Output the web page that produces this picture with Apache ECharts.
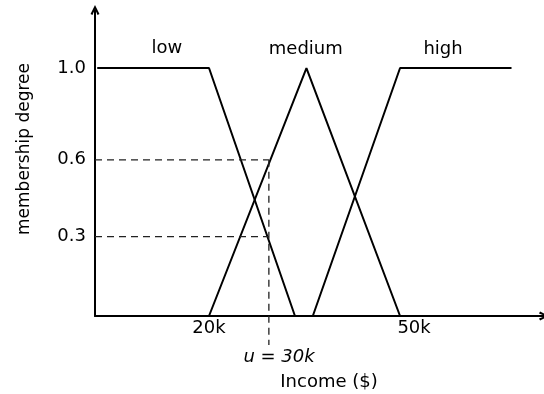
<!DOCTYPE html>
<html>
<head>
<meta charset="utf-8">
<script src="https://cdn.jsdelivr.net/npm/echarts@6/dist/echarts.min.js"></script>
<style>html,body{margin:0;padding:0;background:#fff}#c{width:544px;height:394px}</style>
</head>
<body>
<div id="c"></div>
<script>
// ---- data (income in thousands of $, membership degree 0..1) ----
const lowX = [2.45, 20, 33.5];
const lowY = [1, 1, 0];
const mediumX = [20, 35.3, 50];
const mediumY = [0, 1, 0];
const highX = [36.3, 50, 67.5];
const highY = [0, 1, 1];
const uValue = 29.4;                 // u = 30k guide
const guideY = [0.63, 0.32];         // membership of medium / low at u
const guideBottom = -0.117;          // dashed guide continues below the axis
const classNames = ['low', 'medium', 'high'];
const classLabelX = [13.4, 35.2, 56.75];
const classLabelY = [1.081, 1.077, 1.077];
const uLabel = 'u = 30k';
const uLabelPos = [31.0, -0.165];
const xTickValues = [20, 50];
const xTickLabels = ['20k', '50k'];
const yTickValues = [0.32, 0.63, 1.0];
const yTickLabels = ['0.3', '0.6', '1.0'];
const xMin = 2.1, xMax = 72.6, yMin = 0, yMax = 1.234;

const FONT = 'DejaVu Sans';
const FS = 18;
const TXT = '#000';
const chevron = 'path://M0,10 L5,0 L10,10 L7.8,11.2 L5,4.6 L2.2,11.2 Z';

function pts(xs, ys) { return xs.map((x, i) => [x, ys[i]]); }

const solid = { color: '#000', width: 2 };
const dashed = { color: '#222', width: 1.3, type: [7, 5] };
const textLabel = extra => Object.assign({ show: true, position: 'inside', formatter: p => p.value[2],
  color: TXT, opacity: 1, textBorderWidth: 0, textShadowBlur: 0,
  fontFamily: FONT, fontSize: FS }, extra || {});

const series = [
  { type: 'line', data: pts(lowX, lowY), lineStyle: solid },
  { type: 'line', data: pts(mediumX, mediumY), lineStyle: solid },
  { type: 'line', data: pts(highX, highY), lineStyle: solid },
  { type: 'line', data: [[xMin, guideY[0]], [uValue, guideY[0]]], lineStyle: dashed },
  { type: 'line', data: [[xMin, guideY[1]], [uValue, guideY[1]]], lineStyle: dashed },
  { type: 'line', data: [[uValue, guideY[0]], [uValue, guideBottom]], lineStyle: dashed, clip: false },
  {
    type: 'scatter', symbol: 'circle', symbolSize: 2, itemStyle: { color: '#fff', opacity: 1 },
    data: classNames.map((n, i) => [classLabelX[i], classLabelY[i], n]),
    label: textLabel()
  },
  {
    type: 'scatter', symbol: 'circle', symbolSize: 2, itemStyle: { color: '#fff', opacity: 1 }, clip: false,
    data: [[uLabelPos[0], uLabelPos[1], uLabel]],
    label: textLabel({ fontStyle: 'italic' })
  }
].map(s => Object.assign(s.type === 'line' ? { symbol: 'none', showSymbol: false } : {},
  { animation: false, silent: true }, s));

const chart = echarts.init(document.getElementById('c'), null, { renderer: 'canvas' });
chart.setOption({
  animation: false,
  backgroundColor: '#fff',
  grid: { left: 95, right: 0, top: 10, bottom: 78, containLabel: false, outerBoundsMode: 'none' },
  xAxis: {
    type: 'value', min: xMin, max: xMax,
    name: 'Income ($)', nameLocation: 'middle', nameGap: 57,
    nameTextStyle: { color: TXT, fontFamily: FONT, fontSize: FS, padding: [0, 0, 0, 19] },
    axisLine: { show: true, onZero: false, symbol: ['none', chevron], symbolSize: [15, 10],
      lineStyle: { color: '#000', width: 2 } },
    axisTick: { show: false },
    splitLine: { show: false },
    axisLabel: {
      customValues: xTickValues, margin: 3, color: TXT, fontFamily: FONT, fontSize: FS,
      formatter: v => {
        const i = xTickValues.indexOf(v);
        return i === 1 ? '{b|' + xTickLabels[i] + '}' : '{a|' + xTickLabels[i] + '}';
      },
      rich: {
        a: { color: TXT, fontFamily: FONT, fontSize: FS },
        b: { color: TXT, fontFamily: FONT, fontSize: FS, padding: [0, 0, 0, 28] }
      }
    }
  },
  yAxis: {
    type: 'value', min: yMin, max: yMax,
    name: 'membership degree', nameLocation: 'middle', nameRotate: 90, nameGap: 62,
    nameTextStyle: { color: TXT, fontFamily: FONT, fontSize: 17, padding: [0, 0, 0, 28] },
    axisLine: { show: true, onZero: false, symbol: ['none', chevron], symbolSize: [15, 10],
      lineStyle: { color: '#000', width: 2 } },
    axisTick: { show: false },
    splitLine: { show: false },
    axisLabel: {
      customValues: yTickValues, margin: 9, color: TXT, fontFamily: FONT, fontSize: FS,
      formatter: v => yTickLabels[yTickValues.indexOf(v)]
    }
  },
  series: series
});
</script>
</body>
</html>
